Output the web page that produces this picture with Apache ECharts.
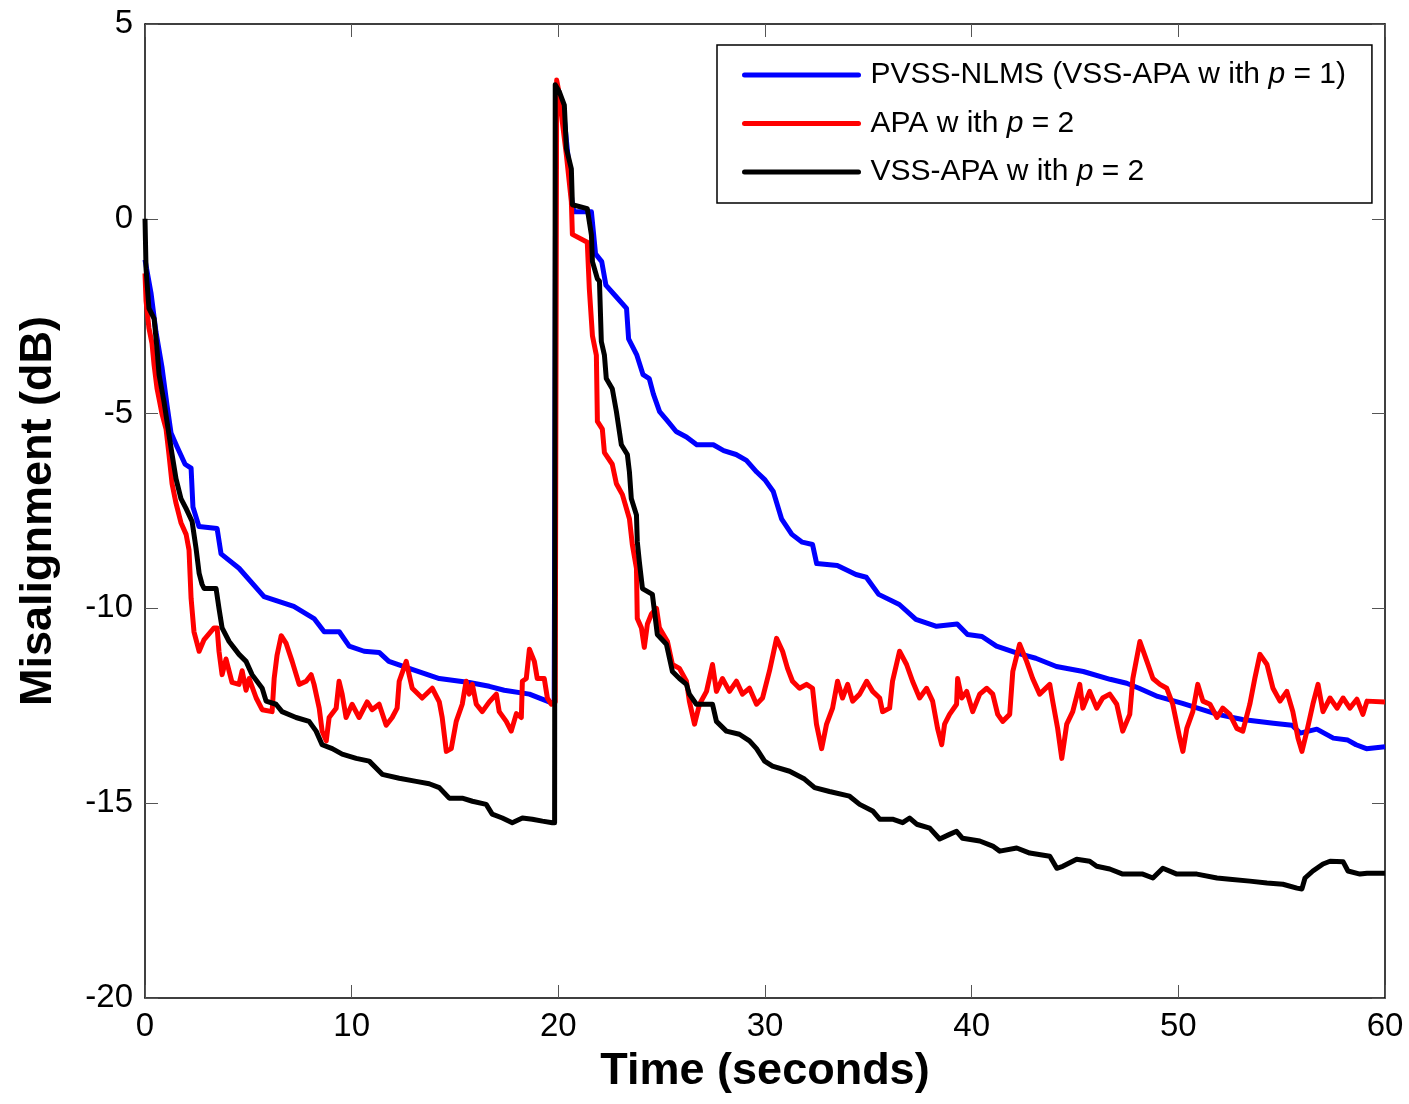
<!DOCTYPE html>
<html>
<head>
<meta charset="utf-8">
<script src="https://cdn.jsdelivr.net/npm/echarts@6/dist/echarts.min.js"></script>
<style>
html,body{margin:0;padding:0;background:#fff;}
#chart{width:1409px;height:1104px;}
</style>
</head>
<body>
<div id="chart"></div>
<script>
// ---- Data (time in seconds, misalignment in dB) ----
const seriesNames = ['PVSS-NLMS (VSS-APA w ith p = 1)', 'APA w ith p = 2', 'VSS-APA w ith p = 2'];
const seriesColors = ['#0000ff', '#ff0000', '#000000'];
const xTicks = [0, 10, 20, 30, 40, 50, 60];
const yTicks = [-20, -15, -10, -5, 0, 5];

const pvssNlms = [
[0,-1.05],[0.29,-1.9],[0.53,-2.9],[0.82,-3.8],[1.07,-4.8],[1.26,-5.5],[1.55,-5.85],[1.94,-6.3],[2.23,-6.4],[2.32,-7.4],
[2.61,-7.9],[3.49,-7.95],[3.68,-8.6],[4.55,-8.97],[5.76,-9.7],[7.2,-9.95],[8.18,-10.26],[8.67,-10.6],[9.4,-10.6],[9.88,-10.97],
[10.6,-11.1],[11.33,-11.13],[11.8,-11.36],[12.78,-11.54],[14.24,-11.8],[15.69,-11.9],[16.66,-12.0],[17.38,-12.1],[18.6,-12.2],[19.8,-12.45],
[19.88,3.2],[20.1,3.0],[20.3,2.5],[20.45,1.7],[20.65,0.5],[20.75,0.18],[21.6,0.18],[21.8,-0.9],[22.1,-1.1],[22.3,-1.7],
[22.8,-2.0],[23.3,-2.3],[23.4,-3.08],[23.8,-3.5],[24.1,-4.0],[24.4,-4.1],[24.6,-4.5],[24.9,-4.95],[25.3,-5.2],[25.7,-5.46],
[26.2,-5.6],[26.7,-5.8],[27.5,-5.8],[28.0,-5.95],[28.6,-6.05],[29.1,-6.2],[29.6,-6.5],[30.0,-6.7],[30.4,-7.0],[30.8,-7.7],
[31.3,-8.1],[31.8,-8.3],[32.3,-8.36],[32.5,-8.85],[33.5,-8.9],[34.4,-9.13],[34.9,-9.2],[35.5,-9.64],[36.5,-9.9],[37.3,-10.28],
[38.3,-10.46],[39.3,-10.4],[39.8,-10.67],[40.5,-10.72],[41.2,-10.97],[42.2,-11.15],[43.1,-11.28],[44.1,-11.49],[45.4,-11.62],[46.7,-11.82],
[47.5,-11.92],[48.1,-12.05],[49.0,-12.26],[50.2,-12.44],[51.9,-12.72],[53.1,-12.85],[54.6,-12.95],[55.5,-13.0],[55.9,-13.2],[56.7,-13.1],
[57.5,-13.33],[58.2,-13.38],[58.6,-13.5],[59.1,-13.6],[60,-13.55]
];

const apaP2 = [
[0,-1.4],[0.05,-2.1],[0.19,-2.8],[0.34,-3.2],[0.44,-3.75],[0.58,-4.35],[0.82,-5.0],[1.02,-5.4],[1.16,-6.05],[1.31,-6.8],
[1.5,-7.3],[1.74,-7.8],[1.99,-8.1],[2.13,-8.5],[2.23,-9.74],[2.37,-10.6],[2.62,-11.1],[2.86,-10.8],[3.34,-10.5],[3.49,-10.5],
[3.58,-11.1],[3.73,-11.7],[3.92,-11.3],[4.21,-11.9],[4.55,-11.95],[4.7,-11.6],[4.89,-12.1],[5.04,-11.8],[5.38,-12.3],[5.67,-12.6],
[6.15,-12.65],[6.25,-11.8],[6.39,-11.2],[6.59,-10.7],[6.83,-10.9],[7.12,-11.36],[7.46,-11.95],[7.8,-11.87],[8.04,-11.7],[8.18,-11.95],
[8.43,-12.56],[8.57,-13.15],[8.77,-13.4],[8.91,-12.8],[9.25,-12.56],[9.39,-11.87],[9.54,-12.2],[9.73,-12.8],[10.02,-12.46],[10.36,-12.8],
[10.75,-12.4],[10.99,-12.6],[11.33,-12.46],[11.67,-13.0],[11.96,-12.8],[12.2,-12.56],[12.3,-11.87],[12.64,-11.36],[12.78,-11.7],[12.93,-12.05],
[13.41,-12.3],[13.9,-12.05],[14.24,-12.4],[14.38,-12.8],[14.58,-13.67],[14.82,-13.6],[15.06,-12.9],[15.35,-12.46],[15.54,-11.87],[15.69,-12.2],
[15.84,-11.95],[16.03,-12.46],[16.32,-12.65],[16.66,-12.4],[17.0,-12.2],[17.14,-12.65],[17.48,-12.9],[17.72,-13.15],[17.97,-12.7],[18.21,-12.8],
[18.26,-11.87],[18.45,-11.8],[18.6,-11.05],[18.84,-11.36],[18.98,-11.8],[19.32,-11.8],[19.47,-12.3],[19.66,-12.46],[19.85,-12.4],[19.92,3.56],
[20.05,3.2],[20.19,2.5],[20.39,1.64],[20.63,0.44],[20.68,-0.4],[21.4,-0.6],[21.5,-1.8],[21.65,-3.0],[21.84,-3.5],[21.89,-5.2],
[22.13,-5.4],[22.23,-6.0],[22.61,-6.3],[22.81,-6.8],[23.1,-7.08],[23.44,-7.7],[23.58,-8.36],[23.78,-8.97],[23.82,-10.26],[24.02,-10.5],
[24.16,-11.0],[24.31,-10.4],[24.5,-10.15],[24.75,-10.0],[24.89,-10.5],[25.28,-10.85],[25.52,-11.44],[25.86,-11.54],[26.2,-11.87],[26.34,-12.38],
[26.59,-12.97],[26.83,-12.46],[27.17,-12.13],[27.46,-11.44],[27.65,-12.13],[27.94,-11.8],[28.28,-12.13],[28.62,-11.87],[28.91,-12.2],[29.25,-12.05],
[29.59,-12.46],[29.88,-12.3],[30.22,-11.6],[30.56,-10.77],[30.85,-11.1],[31.09,-11.54],[31.33,-11.87],[31.67,-12.05],[32.01,-11.95],[32.3,-12.05],
[32.49,-12.97],[32.74,-13.6],[32.98,-12.97],[33.27,-12.56],[33.51,-11.87],[33.75,-12.3],[34.0,-11.95],[34.24,-12.38],[34.58,-12.2],[34.92,-11.87],
[35.21,-12.13],[35.55,-12.3],[35.69,-12.65],[36.03,-12.56],[36.17,-11.87],[36.51,-11.1],[36.85,-11.44],[37.14,-11.87],[37.48,-12.3],[37.82,-12.05],
[38.11,-12.38],[38.35,-13.08],[38.55,-13.5],[38.69,-12.97],[38.93,-12.72],[39.27,-12.46],[39.32,-11.8],[39.52,-12.3],[39.76,-12.13],[40.05,-12.65],
[40.39,-12.2],[40.73,-12.05],[41.02,-12.2],[41.26,-12.72],[41.5,-12.9],[41.84,-12.72],[41.99,-11.62],[42.32,-10.92],[42.66,-11.36],[42.95,-11.8],
[43.29,-12.2],[43.78,-11.95],[43.92,-12.38],[44.16,-13.08],[44.36,-13.85],[44.6,-12.97],[44.89,-12.65],[45.23,-11.95],[45.38,-12.56],[45.71,-12.13],
[46.05,-12.56],[46.34,-12.3],[46.68,-12.2],[47.02,-12.46],[47.31,-13.15],[47.65,-12.72],[47.8,-11.8],[48.14,-10.85],[48.48,-11.36],[48.77,-11.8],
[49.11,-11.95],[49.44,-12.05],[49.73,-12.46],[50.07,-13.33],[50.22,-13.67],[50.41,-13.08],[50.7,-12.65],[50.94,-11.95],[51.19,-12.38],[51.53,-12.46],
[51.87,-12.8],[52.15,-12.56],[52.49,-12.72],[52.83,-13.08],[53.12,-13.15],[53.46,-12.46],[53.7,-11.8],[53.95,-11.18],[54.29,-11.44],[54.58,-12.05],
[54.92,-12.38],[55.25,-12.13],[55.54,-12.65],[55.79,-13.33],[55.98,-13.67],[56.22,-13.15],[56.51,-12.46],[56.76,-11.95],[57.0,-12.65],[57.34,-12.3],
[57.68,-12.56],[57.97,-12.3],[58.3,-12.56],[58.64,-12.33],[58.93,-12.72],[59.13,-12.38],[60,-12.4]
];

const vssApaP2 = [
[0,0],[0.05,-1.28],[0.19,-2.3],[0.44,-2.56],[0.58,-3.33],[0.68,-4.0],[0.92,-4.7],[1.16,-5.54],[1.31,-6.05],[1.5,-6.67],
[1.74,-7.18],[1.99,-7.44],[2.28,-7.77],[2.47,-8.46],[2.62,-9.1],[2.76,-9.38],[2.86,-9.49],[3.44,-9.49],[3.58,-10.0],[3.73,-10.5],
[4.07,-10.85],[4.55,-11.18],[4.89,-11.36],[5.18,-11.7],[5.67,-12.05],[5.86,-12.38],[6.34,-12.46],[6.63,-12.65],[7.31,-12.8],[7.94,-12.9],
[8.28,-13.15],[8.57,-13.5],[9.06,-13.6],[9.54,-13.74],[10.22,-13.85],[10.85,-13.92],[11.48,-14.26],[12.3,-14.36],[13.12,-14.44],[13.75,-14.5],
[14.24,-14.6],[14.72,-14.87],[15.35,-14.87],[15.84,-14.95],[16.51,-15.03],[16.8,-15.28],[17.29,-15.38],[17.77,-15.5],[18.26,-15.38],[18.74,-15.41],
[19.23,-15.46],[19.71,-15.5],[19.82,-15.5],[19.85,3.44],[20.05,3.26],[20.29,2.92],[20.39,1.8],[20.63,1.28],[20.68,0.36],[21.4,0.26],
[21.6,-0.41],[21.65,-1.1],[21.89,-1.54],[21.99,-1.6],[22.08,-3.15],[22.23,-3.5],[22.32,-4.1],[22.61,-4.36],[22.81,-4.95],[23.05,-5.8],
[23.34,-6.05],[23.44,-6.5],[23.53,-7.18],[23.78,-7.6],[23.82,-8.28],[23.92,-8.8],[24.07,-9.49],[24.55,-9.64],[24.79,-10.67],[25.23,-10.92],
[25.52,-11.62],[25.86,-11.8],[26.2,-11.95],[26.34,-12.2],[26.68,-12.46],[27.46,-12.46],[27.65,-12.9],[28.13,-13.15],[28.76,-13.23],[29.25,-13.4],
[29.59,-13.6],[29.98,-13.92],[30.36,-14.05],[31.19,-14.18],[31.91,-14.38],[32.4,-14.6],[33.12,-14.7],[34.09,-14.82],[34.58,-15.03],[35.21,-15.2],
[35.55,-15.41],[36.17,-15.41],[36.66,-15.5],[37.0,-15.38],[37.34,-15.54],[37.97,-15.64],[38.45,-15.92],[38.93,-15.8],[39.27,-15.72],[39.56,-15.9],
[40.39,-15.97],[41.02,-16.1],[41.36,-16.23],[42.18,-16.15],[42.81,-16.28],[43.78,-16.36],[44.12,-16.67],[44.41,-16.62],[45.08,-16.44],[45.71,-16.49],
[46.05,-16.62],[46.68,-16.69],[47.31,-16.82],[48.28,-16.82],[48.77,-16.92],[49.25,-16.67],[49.93,-16.82],[50.9,-16.82],[51.87,-16.92],[52.49,-16.95],
[53.46,-17.0],[54.29,-17.05],[55.06,-17.08],[55.74,-17.18],[55.98,-17.2],[56.13,-16.92],[56.51,-16.74],[57.0,-16.56],[57.34,-16.49],[57.97,-16.5],
[58.21,-16.74],[58.79,-16.82],[59.13,-16.8],[60,-16.8]
];

// ---- Chart ----
const FONT = '"Liberation Sans", Arial, Helvetica, sans-serif';
const LINE_W = 5;
const chart = echarts.init(document.getElementById('chart'), null, {renderer: 'canvas'});

function axisBase(extra) {
  return Object.assign({
    type: 'value',
    splitLine: {show: false},
    axisLine: {show: true, onZero: false, lineStyle: {color: '#000', width: 1.5}},
    axisTick: {show: true, inside: true, length: 13, lineStyle: {color: '#555', width: 1}},
    axisLabel: {show: true, fontSize: 33, color: '#000', fontFamily: FONT, margin: 12}
  }, extra);
}

const xMin = xTicks[0], xMax = xTicks[xTicks.length - 1], xStep = xTicks[1] - xTicks[0];
const yMin = yTicks[0], yMax = yTicks[yTicks.length - 1], yStep = yTicks[1] - yTicks[0];

const dataSets = [pvssNlms, apaP2, vssApaP2];

const option = {
  animation: false,
  backgroundColor: '#fff',
  grid: {left: 145, top: 24, right: 24, bottom: 106, containLabel: false},
  xAxis: [
    axisBase({
      position: 'bottom', min: xMin, max: xMax, interval: xStep,
      name: 'Time (seconds)', nameLocation: 'middle', nameGap: 51,
      nameTextStyle: {fontSize: 45, fontWeight: 'bold', color: '#000', fontFamily: FONT}
    }),
    axisBase({position: 'top', min: xMin, max: xMax, interval: xStep, axisLabel: {show: false}})
  ],
  yAxis: [
    axisBase({
      position: 'left', min: yMin, max: yMax, interval: yStep,
      name: 'Misalignment (dB)', nameLocation: 'middle', nameGap: 84,
      nameTextStyle: {fontSize: 45, fontWeight: 'bold', color: '#000', fontFamily: FONT}
    }),
    axisBase({position: 'right', min: yMin, max: yMax, interval: yStep, axisLabel: {show: false}})
  ],
  legend: {
    orient: 'vertical',
    left: 717, top: 45,
    backgroundColor: '#fff',
    borderColor: '#000', borderWidth: 1.5, borderRadius: 0,
    padding: [15, 26, 16, 25],
    itemWidth: 114, itemHeight: 14, itemGap: 18.5,
    itemStyle: {opacity: 0},
    lineStyle: {width: LINE_W, cap: 'round'},
    data: seriesNames,
    formatter: function (name) { return name.replace(' p = ', ' {i|p} = '); },
    textStyle: {
      fontSize: 30, color: '#000', fontFamily: FONT, lineHeight: 30, padding: [0, 0, 0, 7],
      rich: {i: {fontSize: 30, fontStyle: 'italic', fontFamily: FONT, color: '#000'}}
    }
  },
  series: dataSets.map(function (d, i) {
    return {
      name: seriesNames[i],
      type: 'line',
      data: d,
      showSymbol: false,
      symbol: 'none',
      color: seriesColors[i],
      lineStyle: {color: seriesColors[i], width: LINE_W, join: 'round'},
      z: 2 + i,
      clip: true
    };
  })
};
chart.setOption(option);
</script>
</body>
</html>
